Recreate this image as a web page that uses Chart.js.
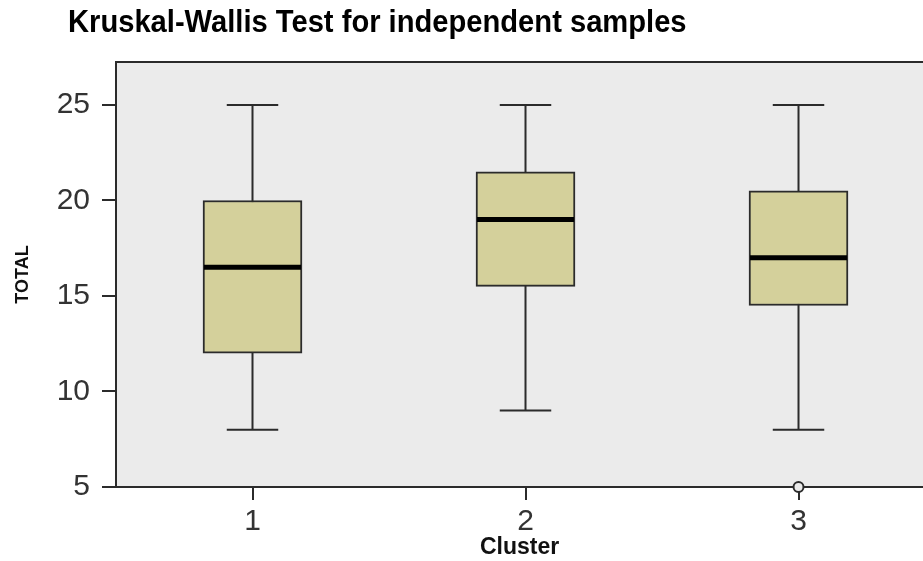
<!DOCTYPE html>
<html>
<head>
<meta charset="utf-8">
<script src="https://cdn.jsdelivr.net/npm/chart.js@4"></script>
<style>
	html, body { margin: 0; padding: 0; background: #fff; }
	#wrap { position: relative; width: 923px; height: 561px; }
	#title {
		position: absolute; left: 68px; top: 4px;
		font: bold 31px "Liberation Sans", Arial, sans-serif;
		color: #000; white-space: nowrap;
		transform: scaleX( 0.94 ); transform-origin: left top;
	}
</style>
</head>
<body>
<div id="wrap">
	<canvas id="chart" width="923" height="561"></canvas>
	<div id="title">Kruskal-Wallis Test for independent samples</div>
</div>
<script>

const clusters = [ '1', '2', '3' ];
const whiskerLow = [ 8, 9, 8 ];
const boxLow = [ 12, 15.5, 14.5 ];
const medians = [ 16.5, 19, 17 ];
const boxHigh = [ 20, 21.5, 20.5 ];
const whiskerHigh = [ 25, 25, 25 ];
const outliers = [ { cluster: 3, value: 5 } ];
const yTicks = [ 5, 10, 15, 20, 25 ];

const lineColour = '#2b2b2b';
const boxFill = '#d4d09b';
const capFraction = 0.52; // cap width relative to box width

const plotBackground = {
	id: 'plotBackground',
	beforeDraw ( chart ) {

		const { ctx, chartArea: a } = chart;
		ctx.save();
		ctx.fillStyle = '#ebebeb';
		ctx.fillRect( a.left, a.top, a.right - a.left, a.bottom - a.top );
		ctx.restore();

	}
};

// whiskers behind the boxes, medians on top of them
const boxParts = {
	id: 'boxParts',
	beforeDatasetsDraw ( chart ) {

		const { ctx, scales: { x, y } } = chart;
		const bars = chart.getDatasetMeta( 0 ).data;

		ctx.save();
		ctx.strokeStyle = lineColour;
		ctx.lineWidth = 2;

		clusters.forEach( ( c, i ) => {

			const px = x.getPixelForValue( i + 1 );
			const half = bars[ i ].width * capFraction / 2;
			const yLo = y.getPixelForValue( whiskerLow[ i ] );
			const yHi = y.getPixelForValue( whiskerHigh[ i ] );

			ctx.beginPath();
			ctx.moveTo( px, yLo );
			ctx.lineTo( px, yHi );
			ctx.moveTo( px - half, yLo );
			ctx.lineTo( px + half, yLo );
			ctx.moveTo( px - half, yHi );
			ctx.lineTo( px + half, yHi );
			ctx.stroke();

		} );

		ctx.restore();

	},
	afterDatasetsDraw ( chart ) {

		const { ctx, scales: { x, y } } = chart;
		const bars = chart.getDatasetMeta( 0 ).data;

		ctx.save();
		ctx.strokeStyle = '#000';
		ctx.lineWidth = 5;

		clusters.forEach( ( c, i ) => {

			const px = x.getPixelForValue( i + 1 );
			const half = bars[ i ].width / 2 - 1;
			const py = y.getPixelForValue( medians[ i ] );

			ctx.beginPath();
			ctx.moveTo( px - half, py );
			ctx.lineTo( px + half, py );
			ctx.stroke();

		} );

		ctx.restore();

	}
};

const tickFont = { family: '"Liberation Sans", Arial, sans-serif', size: 30 };
const titleFont = { family: '"Liberation Sans", Arial, sans-serif', size: 23, weight: 'bold' };

new Chart( document.getElementById( 'chart' ), {
	type: 'bar',
	data: {
		datasets: [ {
			type: 'bar',
			data: clusters.map( ( c, i ) => ( { x: i + 1, y: [ boxLow[ i ], boxHigh[ i ] ] } ) ),
			backgroundColor: boxFill,
			borderColor: lineColour,
			borderWidth: 2,
			borderSkipped: false,
			barThickness: 99
		}, {
			type: 'scatter',
			data: outliers.map( o => ( { x: o.cluster, y: o.value } ) ),
			pointRadius: 5,
			pointBackgroundColor: '#ebebeb',
			pointBorderColor: lineColour,
			pointBorderWidth: 2,
			clip: false
		} ]
	},
	options: {
		responsive: false,
		animation: false,
		layout: { autoPadding: false, padding: { top: 62, right: 0, bottom: 0, left: 0 } },
		plugins: {
			legend: { display: false },
			tooltip: { enabled: false }
		},
		scales: {
			x: {
				type: 'linear',
				min: 0.5,
				max: 3.456,
				offset: false,
				afterBuildTicks: scale => { scale.ticks = clusters.map( ( c, i ) => ( { value: i + 1 } ) ); },
				afterFit: scale => {
					scale.height = 74;
					scale.paddingLeft = 0;
					scale.paddingRight = 0;
				},
				ticks: {
					callback: v => clusters[ v - 1 ],
					font: tickFont,
					color: '#333',
					padding: 4,
					maxRotation: 0
				},
				grid: { offset: false, drawOnChartArea: false, tickLength: 13, color: lineColour, lineWidth: 2 },
				border: { color: lineColour, width: 2 },
				title: { display: true, text: 'Cluster', font: titleFont, color: '#111', padding: { top: 0, bottom: 0 } }
			},
			top: {
				type: 'linear',
				position: 'top',
				min: 0,
				max: 1,
				afterFit: scale => {
					scale.height = 0;
					scale.paddingLeft = 0;
					scale.paddingRight = 0;
				},
				ticks: { display: false },
				grid: { display: false },
				border: { color: lineColour, width: 2 }
			},
			y: {
				min: 5,
				max: 27.25,
				afterBuildTicks: scale => { scale.ticks = yTicks.map( v => ( { value: v } ) ); },
				afterFit: scale => { scale.width = 116; },
				ticks: { font: tickFont, color: '#333', padding: 12 },
				grid: { drawOnChartArea: false, tickLength: 14, color: lineColour, lineWidth: 2 },
				border: { color: lineColour, width: 2 },
				title: { display: true, text: 'TOTAL', font: { ...titleFont, size: 18 }, color: '#111', padding: { top: 12, bottom: 0 } }
			}
		}
	},
	plugins: [ plotBackground, boxParts ]
} );

</script>
</body>
</html>
